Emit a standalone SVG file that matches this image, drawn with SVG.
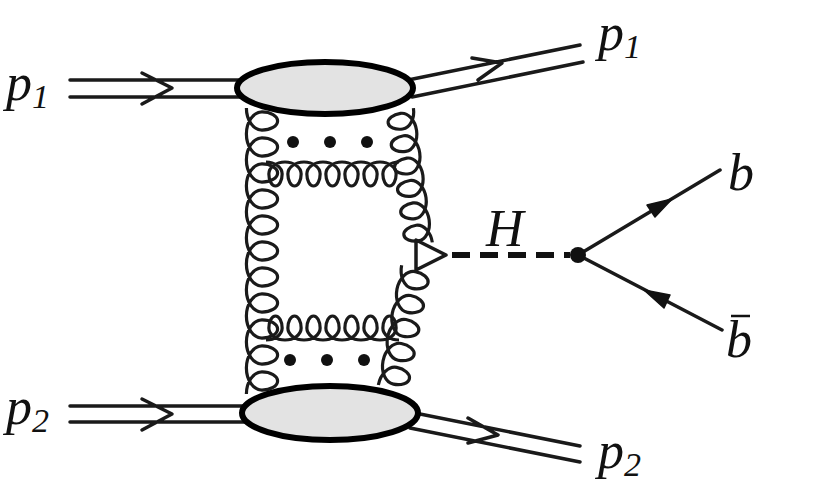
<svg xmlns="http://www.w3.org/2000/svg" width="830" height="484" viewBox="0 0 830 484">
<style>
.l{stroke:#1a1a1a;stroke-width:3.5;fill:none;stroke-linecap:round;stroke-linejoin:round}
.g{stroke:#1a1a1a;stroke-width:3.2;fill:none;vector-effect:non-scaling-stroke}
.blob{fill:#e3e3e3;stroke:#000;stroke-width:6}
.t{font-family:"Liberation Serif",serif;font-style:italic;font-size:52px;fill:#111}
.s{font-family:"Liberation Serif",serif;font-size:34px;fill:#111}
.ah{fill:#111;stroke:#111;stroke-width:1.5;stroke-linejoin:round}
</style>
<g id="connectors">
<path class="l" d="M70,80H245M70,97H245M142,73l30,15l-30,16"/>
<path class="l" d="M408,80L580,45M412,97L583,62M472,58l30,5l-24,17"/>
<path class="l" d="M70,406H250M70,422H250M142,399l30,15l-30,16"/>
<path class="l" d="M410,412L580,446M410,428L580,462M468,418l30,17l-30,8"/>
<g transform="translate(266,174) scale(0.95,1)"><path class="g" d="M0,-12 c 9.35,0 17,5.4 17,12 c 0,6.6 -3.15,12 -7,12 c -3.85,0 -7,-5.4 -7,-12 c 0,-6.6 7.65,-12 17,-12 c 9.35,0 17,5.4 17,12 c 0,6.6 -3.15,12 -7,12 c -3.85,0 -7,-5.4 -7,-12 c 0,-6.6 7.65,-12 17,-12 c 9.35,0 17,5.4 17,12 c 0,6.6 -3.15,12 -7,12 c -3.85,0 -7,-5.4 -7,-12 c 0,-6.6 7.65,-12 17,-12 c 9.35,0 17,5.4 17,12 c 0,6.6 -3.15,12 -7,12 c -3.85,0 -7,-5.4 -7,-12 c 0,-6.6 7.65,-12 17,-12 c 9.35,0 17,5.4 17,12 c 0,6.6 -3.15,12 -7,12 c -3.85,0 -7,-5.4 -7,-12 c 0,-6.6 7.65,-12 17,-12 c 9.35,0 17,5.4 17,12 c 0,6.6 -3.15,12 -7,12 c -3.85,0 -7,-5.4 -7,-12 c 0,-6.6 7.65,-12 17,-12 c 9.35,0 17,5.4 17,12 c 0,6.6 -3.15,12 -7,12 c -3.85,0 -7,-5.4 -7,-12 c 0,-6.6 7.65,-12 17,-12"/></g>
<g transform="translate(266,328) scale(0.95,1)"><path class="g" d="M0,12 c 9.35,0 17,-5.4 17,-12 c 0,-6.6 -3.15,-12 -7,-12 c -3.85,0 -7,5.4 -7,12 c 0,6.6 7.65,12 17,12 c 9.35,0 17,-5.4 17,-12 c 0,-6.6 -3.15,-12 -7,-12 c -3.85,0 -7,5.4 -7,12 c 0,6.6 7.65,12 17,12 c 9.35,0 17,-5.4 17,-12 c 0,-6.6 -3.15,-12 -7,-12 c -3.85,0 -7,5.4 -7,12 c 0,6.6 7.65,12 17,12 c 9.35,0 17,-5.4 17,-12 c 0,-6.6 -3.15,-12 -7,-12 c -3.85,0 -7,5.4 -7,12 c 0,6.6 7.65,12 17,12 c 9.35,0 17,-5.4 17,-12 c 0,-6.6 -3.15,-12 -7,-12 c -3.85,0 -7,5.4 -7,12 c 0,6.6 7.65,12 17,12 c 9.35,0 17,-5.4 17,-12 c 0,-6.6 -3.15,-12 -7,-12 c -3.85,0 -7,5.4 -7,12 c 0,6.6 7.65,12 17,12 c 9.35,0 17,-5.4 17,-12 c 0,-6.6 -3.15,-12 -7,-12 c -3.85,0 -7,5.4 -7,12 c 0,6.6 7.65,12 17,12"/></g>
<g transform="translate(262,108) rotate(90) scale(1.3)"><path class="g" d="M0,12 c 9.35,0 17,-5.4 17,-12 c 0,-6.6 -3.15,-12 -7,-12 c -3.85,0 -7,5.4 -7,12 c 0,6.6 7.65,12 17,12 c 9.35,0 17,-5.4 17,-12 c 0,-6.6 -3.15,-12 -7,-12 c -3.85,0 -7,5.4 -7,12 c 0,6.6 7.65,12 17,12 c 9.35,0 17,-5.4 17,-12 c 0,-6.6 -3.15,-12 -7,-12 c -3.85,0 -7,5.4 -7,12 c 0,6.6 7.65,12 17,12 c 9.35,0 17,-5.4 17,-12 c 0,-6.6 -3.15,-12 -7,-12 c -3.85,0 -7,5.4 -7,12 c 0,6.6 7.65,12 17,12 c 9.35,0 17,-5.4 17,-12 c 0,-6.6 -3.15,-12 -7,-12 c -3.85,0 -7,5.4 -7,12 c 0,6.6 7.65,12 17,12 c 9.35,0 17,-5.4 17,-12 c 0,-6.6 -3.15,-12 -7,-12 c -3.85,0 -7,5.4 -7,12 c 0,6.6 7.65,12 17,12 c 9.35,0 17,-5.4 17,-12 c 0,-6.6 -3.15,-12 -7,-12 c -3.85,0 -7,5.4 -7,12 c 0,6.6 7.65,12 17,12 c 9.35,0 17,-5.4 17,-12 c 0,-6.6 -3.15,-12 -7,-12 c -3.85,0 -7,5.4 -7,12 c 0,6.6 7.65,12 17,12 c 9.35,0 17,-5.4 17,-12 c 0,-6.6 -3.15,-12 -7,-12 c -3.85,0 -7,5.4 -7,12 c 0,6.6 7.65,12 17,12 c 9.35,0 17,-5.4 17,-12 c 0,-6.6 -3.15,-12 -7,-12 c -3.85,0 -7,5.4 -7,12 c 0,6.6 7.65,12 17,12 c 9.35,0 17,-5.4 17,-12 c 0,-6.6 -3.15,-12 -7,-12 c -3.85,0 -7,5.4 -7,12 c 0,6.6 7.65,12 17,12"/></g>
<g transform="translate(400,110) rotate(82) scale(1.13,-1.13)"><path class="g" d="M0,12 c 9.35,0 17,-5.4 17,-12 c 0,-6.6 -3.15,-12 -7,-12 c -3.85,0 -7,5.4 -7,12 c 0,6.6 7.65,12 17,12 c 9.35,0 17,-5.4 17,-12 c 0,-6.6 -3.15,-12 -7,-12 c -3.85,0 -7,5.4 -7,12 c 0,6.6 7.65,12 17,12 c 9.35,0 17,-5.4 17,-12 c 0,-6.6 -3.15,-12 -7,-12 c -3.85,0 -7,5.4 -7,12 c 0,6.6 7.65,12 17,12 c 9.35,0 17,-5.4 17,-12 c 0,-6.6 -3.15,-12 -7,-12 c -3.85,0 -7,5.4 -7,12 c 0,6.6 7.65,12 17,12 c 9.35,0 17,-5.4 17,-12 c 0,-6.6 -3.15,-12 -7,-12 c -3.85,0 -7,5.4 -7,12 c 0,6.6 7.65,12 17,12 c 9.35,0 17,-5.4 17,-12 c 0,-6.6 -3.15,-12 -7,-12 c -3.85,0 -7,5.4 -7,12 c 0,6.6 7.65,12 17,12"/></g>
<g transform="translate(416,268) rotate(101) scale(1.22)"><path class="g" d="M0,12 c 9.35,0 17,-5.4 17,-12 c 0,-6.6 -3.15,-12 -7,-12 c -3.85,0 -7,5.4 -7,12 c 0,6.6 7.65,12 17,12 c 9.35,0 17,-5.4 17,-12 c 0,-6.6 -3.15,-12 -7,-12 c -3.85,0 -7,5.4 -7,12 c 0,6.6 7.65,12 17,12 c 9.35,0 17,-5.4 17,-12 c 0,-6.6 -3.15,-12 -7,-12 c -3.85,0 -7,5.4 -7,12 c 0,6.6 7.65,12 17,12 c 9.35,0 17,-5.4 17,-12 c 0,-6.6 -3.15,-12 -7,-12 c -3.85,0 -7,5.4 -7,12 c 0,6.6 7.65,12 17,12 c 9.35,0 17,-5.4 17,-12 c 0,-6.6 -3.15,-12 -7,-12 c -3.85,0 -7,5.4 -7,12 c 0,6.6 7.65,12 17,12"/></g>
<path d="M452,255H570" stroke="#111" stroke-width="6" stroke-dasharray="18,10" fill="none"/>
<path class="l" d="M578,255L720,170M578,255L722,330"/>
<path class="ah" d="M672,199L655,217L647,205Z"/>
<path class="ah" d="M644,290L664,308L670,295Z"/>
</g>
<g id="blob1"><ellipse class="blob" cx="325" cy="88" rx="88" ry="26"/></g>
<g id="blob2"><ellipse class="blob" cx="330" cy="413" rx="88" ry="27"/></g>
<g id="vertex-triangle"><path class="l" d="M416,240V270L446,255Z" fill="#fff"/></g>
<g id="higgs-vertex"><circle cx="578" cy="255" r="8" fill="#111"/></g>
<g id="dots" fill="#111">
<circle cx="293" cy="142" r="6"/><circle cx="330" cy="142" r="6"/><circle cx="367" cy="142" r="6"/>
<circle cx="290" cy="360" r="6"/><circle cx="327" cy="360" r="6"/><circle cx="364" cy="360" r="6"/>
</g>
<g id="labels">
<text class="t" x="6" y="100">p<tspan class="s" dy="8">1</tspan></text>
<text class="t" x="598" y="50">p<tspan class="s" dy="8">1</tspan></text>
<text class="t" x="6" y="424">p<tspan class="s" dy="8">2</tspan></text>
<text class="t" x="598" y="468">p<tspan class="s" dy="8">2</tspan></text>
<text class="t" x="486" y="246">H</text>
<text class="t" x="728" y="190">b</text>
<text class="t" x="726" y="357">b</text>
<path d="M731,316H750" stroke="#111" stroke-width="2.5"/>
</g>
</svg>
